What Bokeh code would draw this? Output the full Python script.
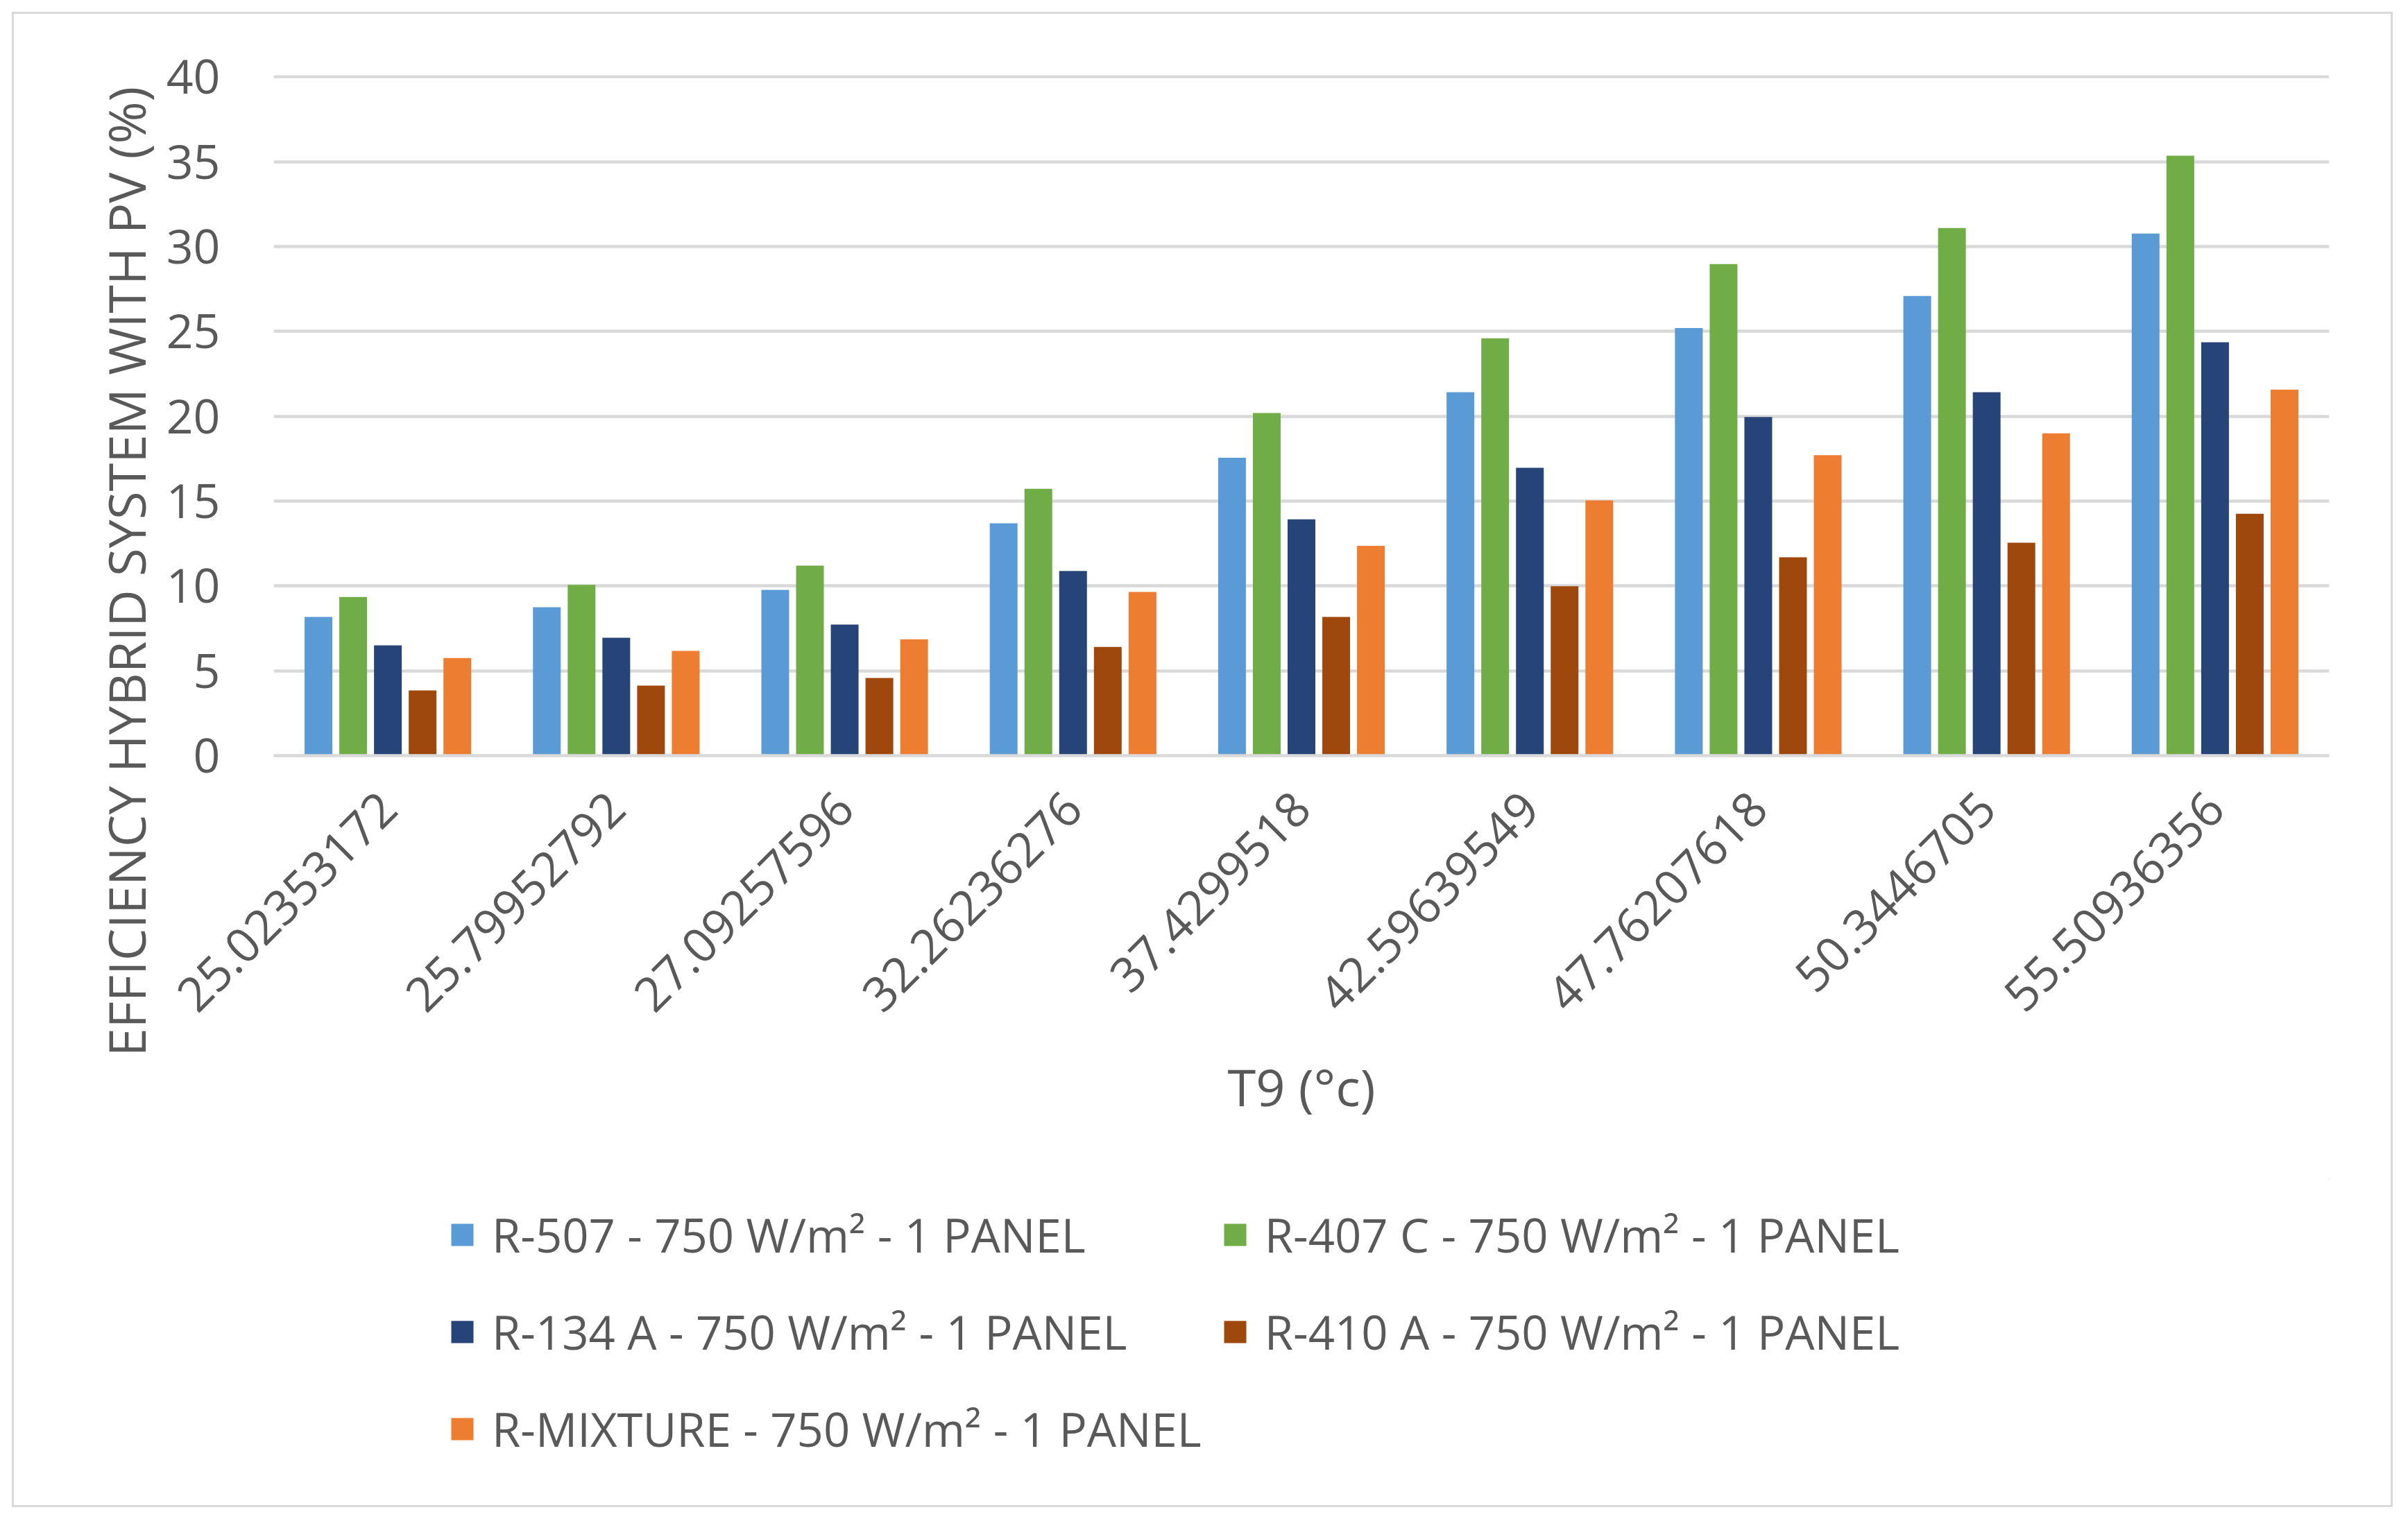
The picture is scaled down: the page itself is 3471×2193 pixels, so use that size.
import math
from bokeh.plotting import figure
from bokeh.models import (ColumnDataSource, FactorRange, Range1d, Legend, LegendItem, Title,
                          FixedTicker, InlineStyleSheet)
from bokeh.layouts import column
from bokeh.transform import dodge
from bokeh.embed import file_html
from bokeh.resources import INLINE

categories = ["25.02353172", "25.79952792", "27.09257596", "32.26236276", "37.4299518",
              "42.59639549", "47.76207618", "50.3446705", "55.50936356"]
r507 = [8.18, 8.75, 9.77, 13.69, 17.56, 21.42, 25.20, 27.09, 30.77]
r407c = [9.35, 10.07, 11.20, 15.73, 20.19, 24.60, 28.97, 31.10, 35.36]
r134a = [6.50, 6.95, 7.73, 10.88, 13.93, 16.96, 19.96, 21.42, 24.36]
r410a = [3.84, 4.13, 4.58, 6.41, 8.18, 9.98, 11.69, 12.55, 14.26]
rmix = [5.75, 6.17, 6.86, 9.65, 12.37, 15.04, 17.71, 19.00, 21.57]
series_names = ["R-507 - 750 W/m\u00b2 - 1 PANEL", "R-407 C - 750 W/m\u00b2 - 1 PANEL",
                "R-134 A - 750 W/m\u00b2 - 1 PANEL", "R-410 A - 750 W/m\u00b2 - 1 PANEL",
                "R-MIXTURE - 750 W/m\u00b2 - 1 PANEL"]
colors = ["#5B9BD5", "#70AD47", "#264478", "#9E480E", "#ED7D31"]
y_ticks = [0, 5, 10, 15, 20, 25, 30, 35, 40]

FONT = "Open Sans"
TXT = "#595959"
GRID = "#D9D9D9"

source = ColumnDataSource(dict(cat=categories, s0=r507, s1=r407c, s2=r134a, s3=r410a, s4=rmix))

p = figure(x_range=FactorRange(*categories, range_padding=0), y_range=Range1d(0, 40.1),
           width=3426, height=1680, output_backend="svg", toolbar_location=None,
           min_border_left=374, min_border_right=89, min_border_top=88, min_border_bottom=611)
p.margin = (20, 20, 0, 20)
p.outline_line_color = None
p.background_fill_color = "white"
p.border_fill_color = "white"

step = 0.152
width = 0.1215
keys = ["s0", "s1", "s2", "s3", "s4"]
for i, key in enumerate(keys):
    p.vbar(x=dodge("cat", (i - 2) * step, range=p.x_range), top=key, width=width,
           bottom=0, source=source, fill_color=colors[i], line_color=None)

p.xgrid.grid_line_color = None
p.ygrid.grid_line_color = GRID
p.ygrid.grid_line_width = 4.5
p.yaxis.ticker = FixedTicker(ticks=y_ticks)

p.yaxis.axis_line_color = None
p.yaxis.major_tick_line_color = None
p.yaxis.minor_tick_line_color = None
p.yaxis.major_label_standoff = 71
p.yaxis.major_label_text_font = FONT
p.yaxis.major_label_text_font_size = "68px"
p.yaxis.major_label_text_color = TXT

p.xaxis.axis_line_color = GRID
p.xaxis.axis_line_width = 4.5
p.xaxis.major_tick_line_color = None
p.xaxis.minor_tick_line_color = None
p.xaxis.major_label_orientation = math.pi / 4
p.xaxis.major_label_standoff = 58
p.xaxis.major_label_text_font = FONT
p.xaxis.major_label_text_font_size = "69px"
p.xaxis.major_label_text_color = TXT
p.xaxis.axis_label = "T9 (\u00b0c)"
p.xaxis.axis_label_text_font = FONT
p.xaxis.axis_label_text_font_size = "74px"
p.xaxis.axis_label_text_font_style = "normal"
p.xaxis.axis_label_text_color = TXT
p.xaxis.axis_label_standoff = 32

ytitle = Title(text="EFFICIENCY HYBRID SYSTEM WITH PV (%)", align="left", offset=-434,
               text_font=FONT, text_font_size="74px", text_font_style="normal",
               text_color=TXT)
p.add_layout(ytitle, "left")

# legend figure (legend swatches use proxy renderers placed outside the visible range)
p2 = figure(width=3426, height=470, output_backend="svg", toolbar_location=None,
            x_range=Range1d(0, 1), y_range=Range1d(0, 1), x_axis_type=None, y_axis_type=None,
            min_border=0)
p2.margin = (0, 20, 20, 20)
p2.outline_line_color = None
p2.background_fill_color = "white"
p2.border_fill_color = "white"
proxy = ColumnDataSource(dict(x=[5.0], top=[5.0], bottom=[4.0]))
items = []
for i in range(5):
    r = p2.vbar(x="x", top="top", bottom="bottom", width=0.1, source=proxy,
                fill_color=colors[i], line_color=None)
    items.append(LegendItem(label=series_names[i], renderers=[r]))
legend = Legend(items=items, location=(252, 54), orientation="horizontal", ncols=2,
                label_text_font=FONT, label_text_font_size="67px", label_text_color=TXT,
                glyph_width=40, glyph_height=40, label_standoff=23, label_height=112,
                spacing=28, padding=0, margin=0, border_line_color=None,
                background_fill_alpha=0)
p2.add_layout(legend, "center")

layout = column(p, p2, spacing=0)
css = ":host { outline: 3px solid #D9D9D9; outline-offset: -20px; background-color: white; }"
layout.stylesheets = [InlineStyleSheet(css=css)]
layout.styles = {"outline": "3px solid #D9D9D9", "outline-offset": "-20px",
                 "background-color": "white"}

open("out.html", "w").write(file_html(layout, INLINE))
